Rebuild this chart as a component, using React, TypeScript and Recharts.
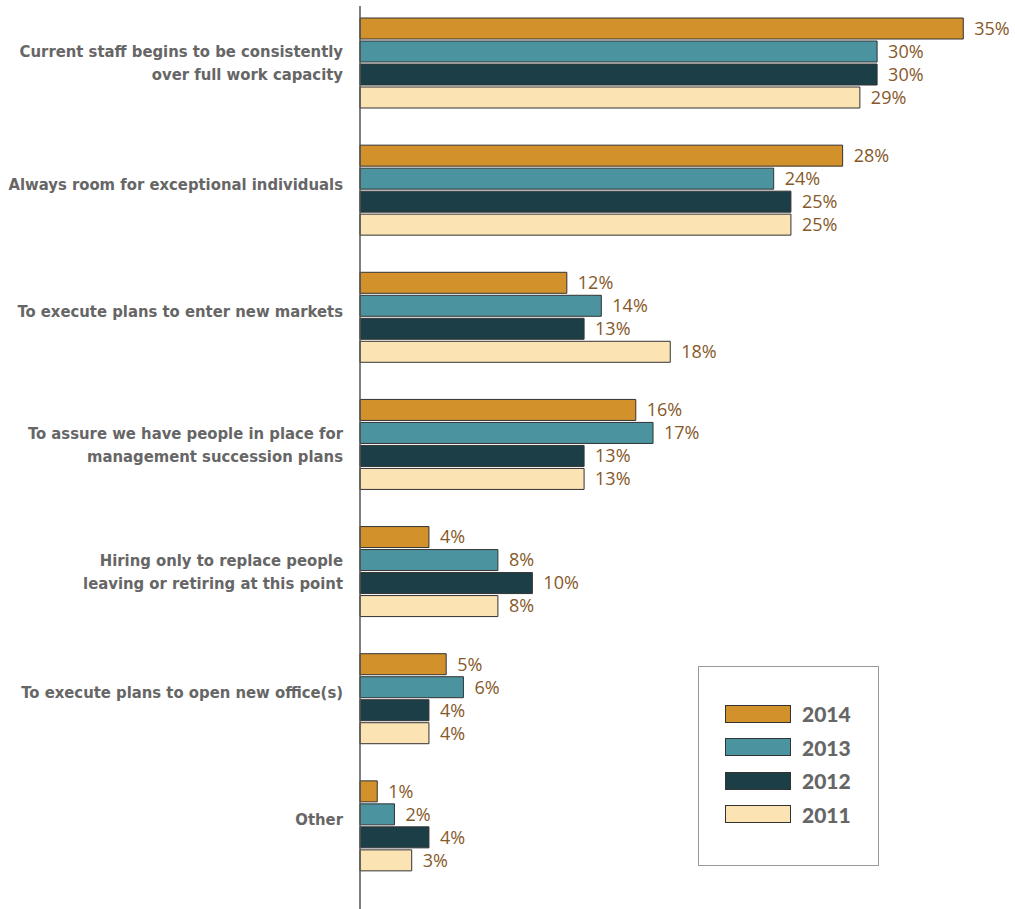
import { Bar, BarChart, LabelList, Legend, XAxis, YAxis } from 'recharts'

const categories = [
  ['Current staff begins to be consistently', 'over full work capacity'],
  ['Always room for exceptional individuals'],
  ['To execute plans to enter new markets'],
  ['To assure we have people in place for', 'management succession plans'],
  ['Hiring only to replace people', 'leaving or retiring at this point'],
  ['To execute plans to open new office(s)'],
  ['Other'],
]

const values2014 = [35, 28, 12, 16, 4, 5, 1]
const values2013 = [30, 24, 14, 17, 8, 6, 2]
const values2012 = [30, 25, 13, 13, 10, 4, 4]
const values2011 = [29, 25, 18, 13, 8, 4, 3]

const series = [
  { key: 'y2014', label: '2014', color: '#d3912b' },
  { key: 'y2013', label: '2013', color: '#4a939f' },
  { key: 'y2012', label: '2012', color: '#1c3e46' },
  { key: 'y2011', label: '2011', color: '#fbe3b3' },
]

const data = categories.map((lines, i) => ({
  name: lines.join('|'),
  y2014: values2014[i],
  y2013: values2013[i],
  y2012: values2012[i],
  y2011: values2011[i],
}))

function CategoryTick({ x, y, payload }: any) {
  const lines = String(payload.value).split('|')
  const lineHeight = 23
  // single-line labels sit a little above the group centre in the original
  const startY = lines.length === 1 ? y - 6 : y - ((lines.length - 1) * lineHeight) / 2
  return (
    <text
      x={x - 9}
      y={startY}
      textAnchor="end"
      dominantBaseline="central"
      fill="#666"
      style={{ fontFamily: '"DejaVu Sans Condensed", "DejaVu Sans", sans-serif', fontStretch: 'condensed', fontWeight: 700, fontSize: 16.5 }}
    >
      {lines.map((line, i) => (
        <tspan key={i} x={x - 9} dy={i === 0 ? 0 : lineHeight}>{line}</tspan>
      ))}
    </text>
  )
}

function LegendBox() {
  return (
    <div style={{ width: 181, height: 200, border: '1px solid #999', boxSizing: 'border-box', paddingTop: 30, paddingLeft: 26 }}>
      {series.map((s) => (
        <div key={s.key} style={{ display: 'flex', alignItems: 'center', height: 33.5 }}>
          <span style={{ width: 64, height: 16, background: s.color, border: '1px solid #333', display: 'inline-block' }} />
          <span style={{ marginLeft: 11, fontFamily: 'Lato, sans-serif', fontWeight: 900, fontSize: 21, color: '#666' }}>{s.label}</span>
        </div>
      ))}
    </div>
  )
}

export default function App() {
  return (
    <div style={{ position: 'absolute', left: 0, top: 0, width: 1015, height: 909 }}>
      <BarChart
        width={1015}
        height={909}
        data={data}
        layout="vertical"
        margin={{ top: 6, right: 0, bottom: 0, left: 0 }}
        barGap={2}
        barSize={21}
      >
        <XAxis type="number" domain={[0, 38]} hide />
        <YAxis
          type="category"
          dataKey="name"
          width={360}
          axisLine={{ stroke: '#555', strokeWidth: 1.5 }}
          tickLine={false}
          tick={<CategoryTick />}
          interval={0}
          padding={{ top: -7, bottom: 20 }}
        />
        <Legend
          layout="vertical"
          align="center"
          verticalAlign="middle"
          content={<LegendBox />}
          wrapperStyle={{ position: 'absolute', left: 698, top: 666, width: 181, height: 200 }}
        />
        {series.map((s) => (
          <Bar key={s.key} dataKey={s.key} name={s.label} fill={s.color} stroke="#333" strokeWidth={1} isAnimationActive={false}>
            <LabelList
              dataKey={s.key}
              position="right"
              offset={11}
              formatter={(v: any) => `${v}%`}
              style={{ fill: '#86592a', fontFamily: '"Open Sans", sans-serif', fontSize: 18 }}
            />
          </Bar>
        ))}
      </BarChart>
    </div>
  )
}
